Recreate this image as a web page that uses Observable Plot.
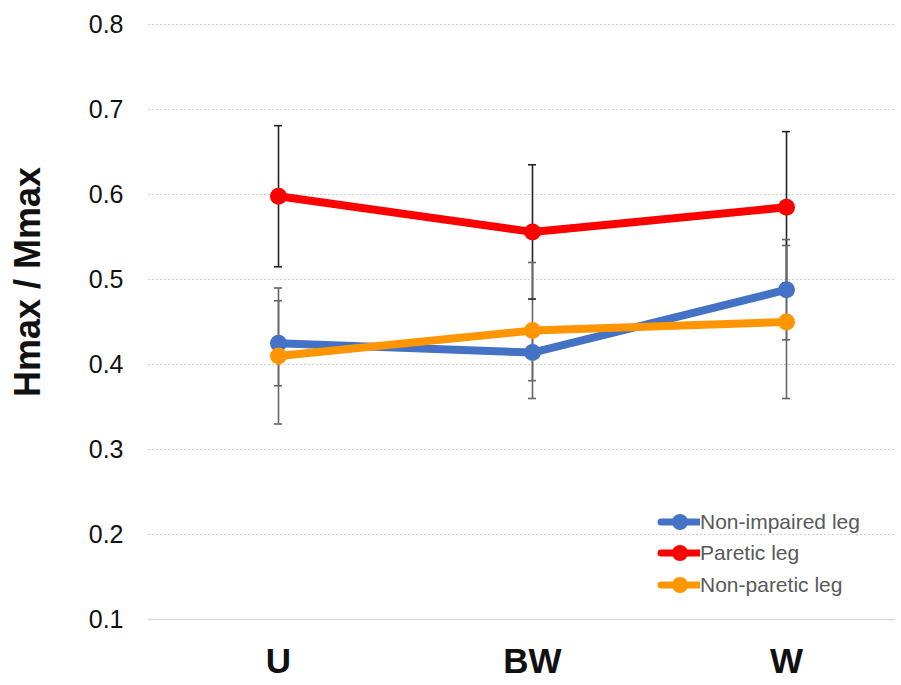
<!DOCTYPE html>
<html>
<head>
<meta charset="utf-8">
<script src="https://cdn.jsdelivr.net/npm/d3@7"></script>
<script src="https://cdn.jsdelivr.net/npm/@observablehq/plot@0.6"></script>
<style>
  html, body { margin: 0; padding: 0; background: #fff; }
  #wrap { position: relative; width: 901px; height: 685px; font-family: "Liberation Sans", Arial, sans-serif; }
  #legend { position: absolute; left: 656px; top: 506px; font-size: 21px; color: #595959; }
  .row { display: flex; align-items: center; height: 31.5px; }
  .row svg { margin-right: 0px; }
</style>
</head>
<body>
<div id="wrap"><div id="legend"></div></div>
<script>
const conditions = ["U", "BW", "W"];
const seriesNames = ["Non-impaired leg", "Paretic leg", "Non-paretic leg"];
const seriesColors = ["#4472C4", "#FF0000", "#FF9500"];
const barColors = ["#666666", "#222222", "#666666"];
const nonImpaired = [0.425, 0.414, 0.488];
const nonImpairedErr = [0.050, 0.033, 0.059];
const paretic = [0.598, 0.556, 0.585];
const pareticErr = [0.083, 0.079, 0.089];
const nonParetic = [0.410, 0.440, 0.450];
const nonPareticErr = [0.080, 0.080, 0.090];
const yTicks = [0.1, 0.2, 0.3, 0.4, 0.5, 0.6, 0.7, 0.8];

const values = [nonImpaired, paretic, nonParetic];
const errs = [nonImpairedErr, pareticErr, nonPareticErr];
const data = [];
seriesNames.forEach((s, i) => conditions.forEach((c, j) => data.push({
  series: s, cond: c, v: values[i][j], lo: values[i][j] - errs[i][j], hi: values[i][j] + errs[i][j],
  color: seriesColors[i], bar: barColors[i]
})));

const chart = Plot.plot({
  width: 901, height: 685,
  marginLeft: 148, marginRight: 6, marginTop: 24, marginBottom: 66,
  style: { fontFamily: "Liberation Sans, Arial, sans-serif", background: "#fff" },
  x: { type: "point", domain: conditions, range: [277, 786], padding: 0, label: null },
  y: { domain: [0.1, 0.8], label: null },
  marks: [
    Plot.ruleY(yTicks.slice(1), { stroke: "#cfcfcf", strokeDasharray: "2,2", strokeWidth: 1 }),
    Plot.ruleY([0.1], { stroke: "#d9d9d9", strokeWidth: 1.3 }),
    Plot.axisY({ ticks: yTicks, tickSize: 0, tickPadding: 25, fontSize: 25, tickFormat: d3.format(".1f"), color: "#111", label: null }),
    Plot.axisX({ tickSize: 0, tickPadding: 29, fontSize: 35, fontWeight: "bold", color: "#111", label: null }),
    Plot.text(["Hmax / Mmax"], { frameAnchor: "left", textAnchor: "middle", rotate: -90, dx: -120, dy: -40, fontSize: 36, fontWeight: "bold", fill: "#111" }),
    Plot.ruleX(data, { x: "cond", y1: "lo", y2: "hi", stroke: "bar", strokeWidth: 1.6 }),
    Plot.ruleY(data, { x1: "cond", x2: "cond", y: "lo", stroke: "bar", strokeWidth: 1.6, insetLeft: -4, insetRight: -4 }),
    Plot.ruleY(data, { x1: "cond", x2: "cond", y: "hi", stroke: "bar", strokeWidth: 1.6, insetLeft: -4, insetRight: -4 }),
    Plot.line(data, { x: "cond", y: "v", z: "series", stroke: "color", strokeWidth: 8, strokeLinejoin: "round", strokeLinecap: "round" }),
    Plot.dot(data, { x: "cond", y: "v", fill: "color", r: 8.5, stroke: "none" })
  ]
});
document.getElementById("wrap").prepend(chart);

const legend = document.getElementById("legend");
seriesNames.forEach((s, i) => {
  const row = document.createElement("div");
  row.className = "row";
  row.innerHTML = `<svg width="44" height="20"><line x1="5" y1="10" x2="43" y2="10" stroke="${seriesColors[i]}" stroke-width="7" stroke-linecap="round"/><circle cx="24" cy="10" r="8" fill="${seriesColors[i]}"/></svg><span>${s}</span>`;
  legend.appendChild(row);
});
</script>
</body>
</html>
